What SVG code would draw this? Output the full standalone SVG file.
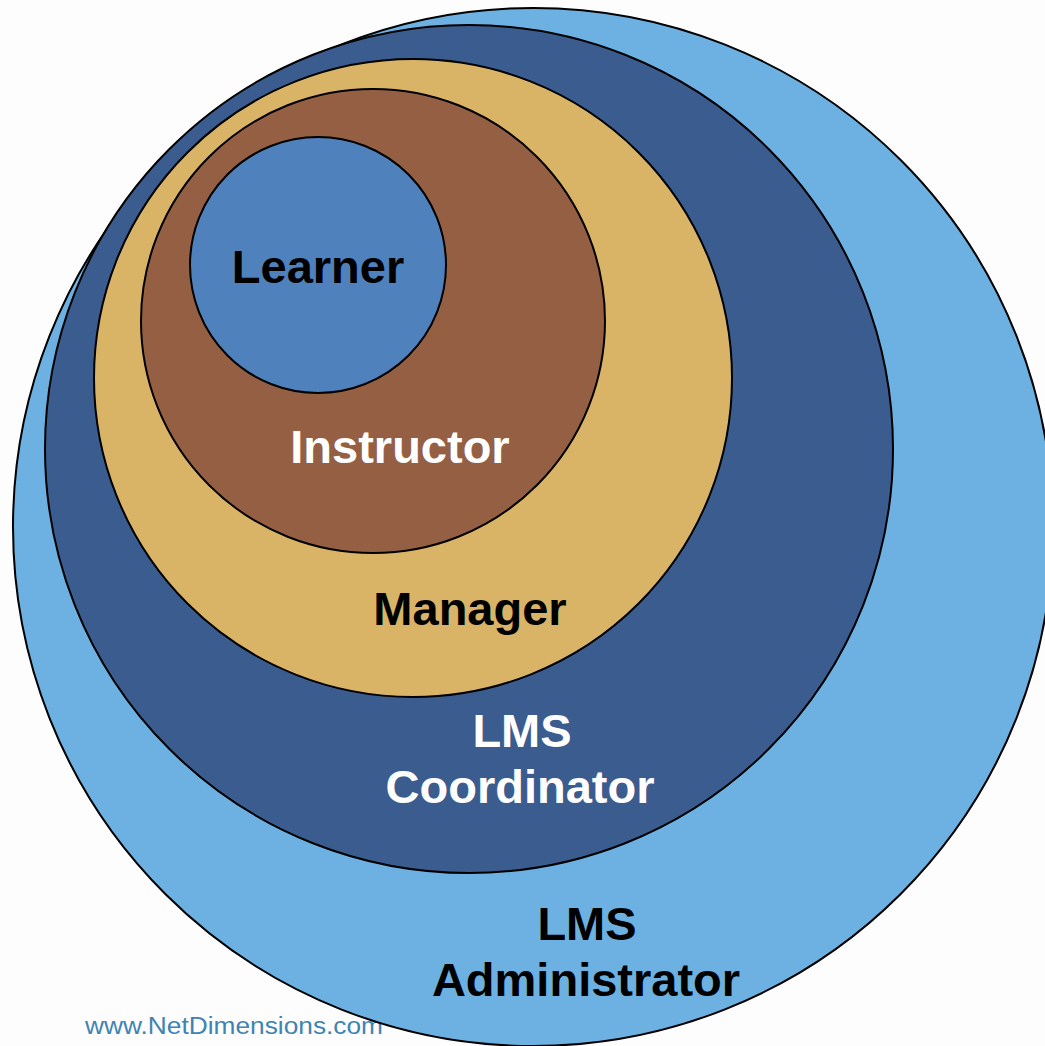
<svg xmlns="http://www.w3.org/2000/svg" width="1045" height="1046" viewBox="0 0 1045 1046">
  <style>
    .ring { stroke: #000; stroke-width: 2; }
    .lbl { font-family: "Liberation Sans", Arial, sans-serif; font-weight: bold; font-size: 47px; text-anchor: middle; }
    .dark { fill: #000; }
    .light { fill: #fff; }
    .wm { font-family: "Liberation Sans", Arial, sans-serif; font-size: 23px; fill: #3e84b2; }
  </style>
  <rect x="0" y="0" width="1045" height="1046" fill="#fdfdfd"/>
  <text class="wm" x="85" y="1034" textLength="298" lengthAdjust="spacingAndGlyphs">www.NetDimensions.com</text>
  <g id="admin">
    <ellipse class="ring" cx="533" cy="527" rx="520" ry="519" fill="#6cb1e1"/>
    <text class="lbl dark" x="587" y="940">LMS</text>
    <text class="lbl dark" x="586" y="996">Administrator</text>
  </g>
  <g id="coordinator">
    <circle class="ring" cx="469" cy="449" r="424" fill="#3b5c8f"/>
    <text class="lbl light" x="522" y="747">LMS</text>
    <text class="lbl light" x="520" y="803">Coordinator</text>
  </g>
  <g id="manager">
    <circle class="ring" cx="413" cy="378" r="319" fill="#d9b467"/>
    <text class="lbl dark" x="470" y="625">Manager</text>
  </g>
  <g id="instructor">
    <circle class="ring" cx="373" cy="321" r="232" fill="#955f44"/>
    <text class="lbl light" x="400" y="463">Instructor</text>
  </g>
  <g id="learner">
    <circle class="ring" cx="318" cy="265" r="128" fill="#4f81bd"/>
    <text class="lbl dark" x="318" y="283">Learner</text>
  </g>
  <g id="connectors"/>
</svg>
